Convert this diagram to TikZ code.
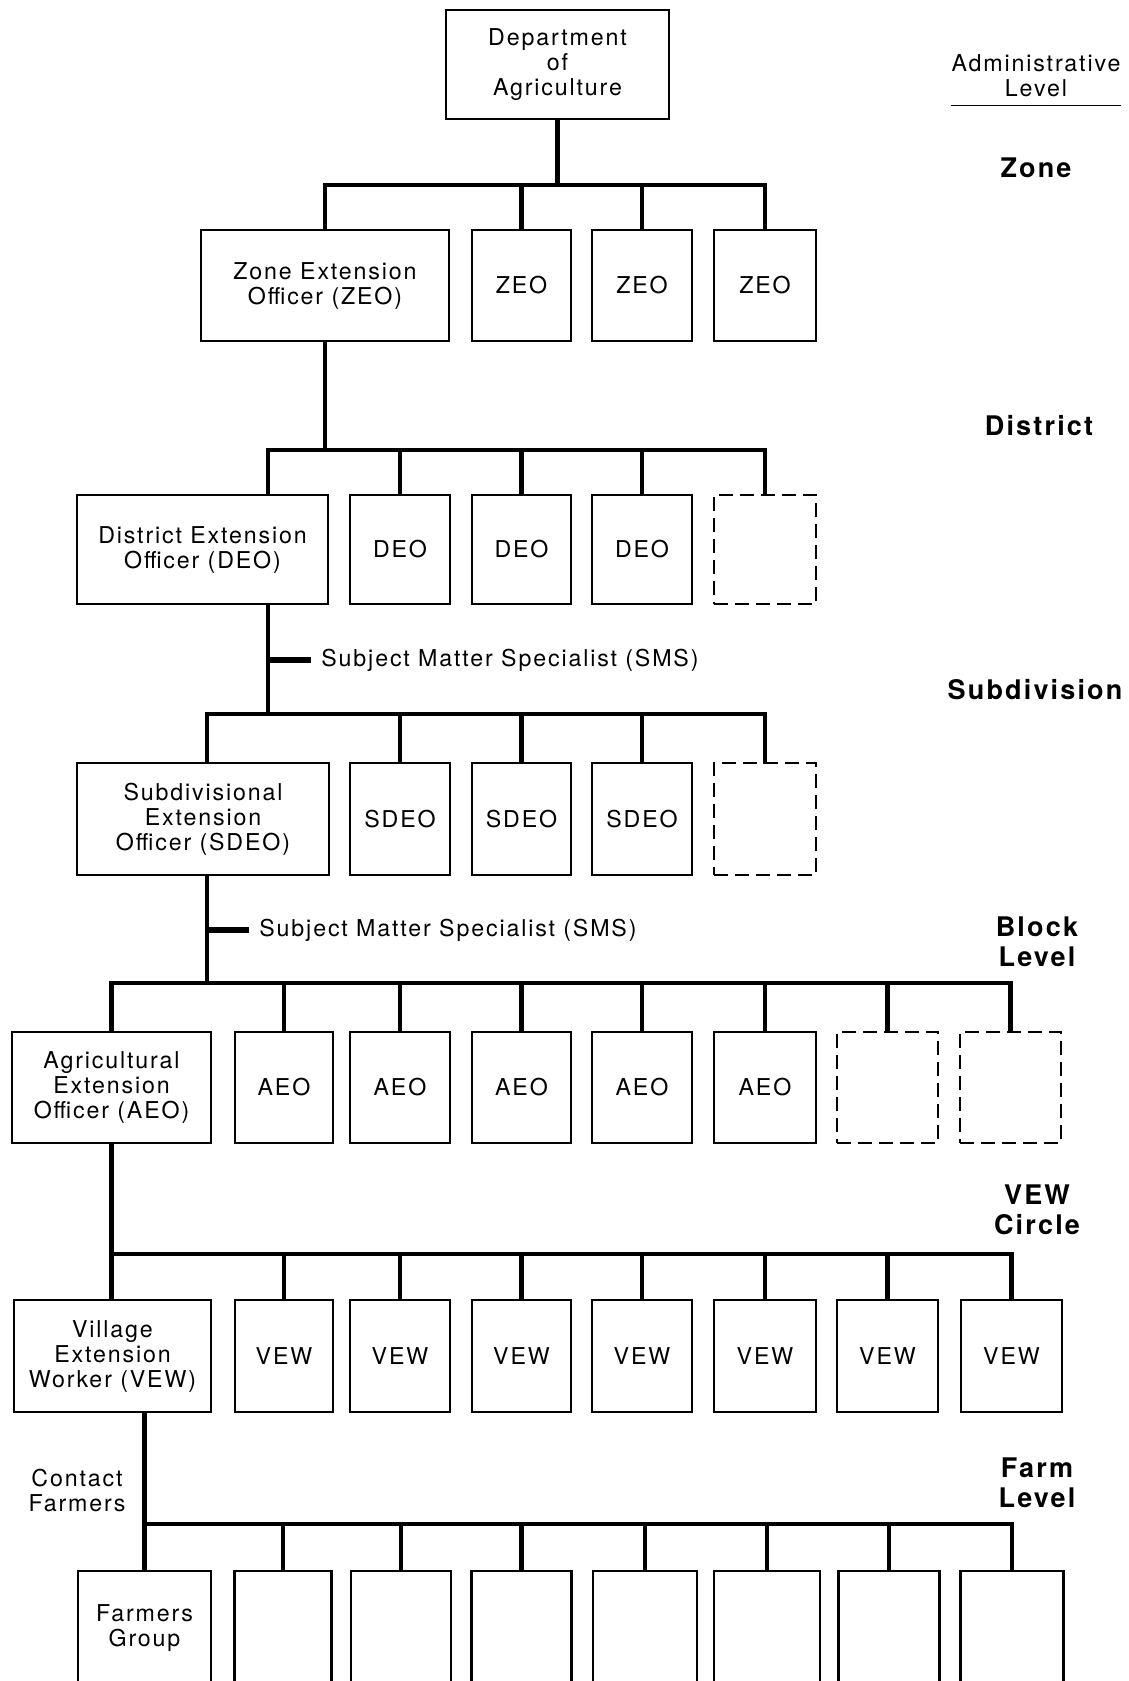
\documentclass[tikz,border=0pt]{standalone}
\usepackage{fontspec}
\setmainfont{TeX Gyre Heros}[LetterSpace=8]
\usetikzlibrary{positioning, calc}

\begin{document}
\begin{tikzpicture}[
    x=0.5pt, y=-0.5pt,
    every node/.style={font=\fontsize{11.6}{12.5}\selectfont},
    office/.style={draw, line width=1.3pt, inner sep=0pt, minimum height=55.5pt, align=center},
    vacant/.style={office, dash pattern=on 7pt off 3.5pt},
    link/.style={line width=2.3pt, line cap=rect},
    stub/.style={line width=2.8pt},
    level/.style={font=\fontsize{13.5}{15}\selectfont\bfseries, align=center}
]
\clip (0,0) rectangle (1129,1681);

% Department
\node[office, minimum width=111.5pt, minimum height=54.5pt] (dept) at (557.5,64.5) {Department\\of\\Agriculture};

% Zone
\node[office, minimum width=124pt] (zeo1) at (325,285.5) {Zone Extension\\Officer (ZEO)};
\node[office, minimum width=49.5pt] (zeo2) at (521.5,285.5) {ZEO};
\node[office, minimum width=50pt] (zeo3) at (642,285.5) {ZEO};
\node[office, minimum width=51pt] (zeo4) at (765,285.5) {ZEO};

% District
\node[office, minimum width=125.5pt, minimum height=54.5pt] (deo1) at (202.5,549.5) {District Extension\\Officer (DEO)};
\node[office, minimum width=50pt, minimum height=54.5pt] (deo2) at (400,549.5) {DEO};
\node[office, minimum width=49.5pt, minimum height=54.5pt] (deo3) at (521.5,549.5) {DEO};
\node[office, minimum width=50pt, minimum height=54.5pt] (deo4) at (642,549.5) {DEO};
\node[vacant, minimum width=51pt, minimum height=54.5pt] (deo5) at (765,549.5) {};

% Subdivision
\node[office, minimum width=126pt, minimum height=56pt] (sdeo1) at (203,819) {Subdivisional\\Extension\\Officer (SDEO)};
\node[office, minimum width=50pt, minimum height=56pt] (sdeo2) at (400,819) {SDEO};
\node[office, minimum width=49.5pt, minimum height=56pt] (sdeo3) at (521.5,819) {SDEO};
\node[office, minimum width=50pt, minimum height=56pt] (sdeo4) at (642,819) {SDEO};
\node[vacant, minimum width=51pt, minimum height=56pt] (sdeo5) at (765,819) {};

% Block
\node[office, minimum width=99.5pt] (aeo1) at (111.5,1087.5) {Agricultural\\Extension\\Officer (AEO)};
\node[office, minimum width=49pt] (aeo2) at (284,1087.5) {AEO};
\node[office, minimum width=50pt] (aeo3) at (400,1087.5) {AEO};
\node[office, minimum width=49.5pt] (aeo4) at (521.5,1087.5) {AEO};
\node[office, minimum width=50pt] (aeo5) at (642,1087.5) {AEO};
\node[office, minimum width=51pt] (aeo6) at (765,1087.5) {AEO};
\node[vacant, minimum width=50.5pt] (aeo7) at (887.5,1087.5) {};
\node[vacant, minimum width=50.5pt] (aeo8) at (1010.5,1087.5) {};

% VEW circle
\node[office, minimum width=98.5pt, minimum height=56pt] (vew1) at (112.5,1356) {Village\\Extension\\Worker (VEW)};
\node[office, minimum width=49pt, minimum height=56pt] (vew2) at (284,1356) {VEW};
\node[office, minimum width=50pt, minimum height=56pt] (vew3) at (400,1356) {VEW};
\node[office, minimum width=49.5pt, minimum height=56pt] (vew4) at (521.5,1356) {VEW};
\node[office, minimum width=50pt, minimum height=56pt] (vew5) at (642,1356) {VEW};
\node[office, minimum width=51pt, minimum height=56pt] (vew6) at (765,1356) {VEW};
\node[office, minimum width=50.5pt, minimum height=56pt] (vew7) at (887.5,1356) {VEW};
\node[office, minimum width=50.5pt, minimum height=56pt] (vew8) at (1011.5,1356) {VEW};

% Farm (boxes run off the page)
\node[office, minimum width=66.5pt, minimum height=57.5pt] (fg1) at (144.5,1628.5) {Farmers\\Group};
\node[office, minimum width=48.5pt, minimum height=57.5pt] (fg2) at (283,1628.5) {};
\node[office, minimum width=50pt, minimum height=57.5pt] (fg3) at (401,1628.5) {};
\node[office, minimum width=50pt, minimum height=57.5pt] (fg4) at (521.5,1628.5) {};
\node[office, minimum width=52pt, minimum height=57.5pt] (fg5) at (645,1628.5) {};
\node[office, minimum width=53pt, minimum height=57.5pt] (fg6) at (767,1628.5) {};
\node[office, minimum width=50.5pt, minimum height=57.5pt] (fg7) at (889,1628.5) {};
\node[office, minimum width=51.5pt, minimum height=57.5pt] (fg8) at (1012,1628.5) {};

% Levels
\node[align=center, inner xsep=0pt, inner ysep=4pt] (admin) at (1036,76) {Administrative\\Level};
\draw[line width=0.7pt] (admin.south west) -- (admin.south east);
\node[level] (zone) at (1036,168) {Zone};
\node[level] (district) at (1039,426) {District};
\node[level] (subdiv) at (1035,690) {Subdivision};
\node[level] (block) at (1037,942) {Block\\Level};
\node[level] (vewc) at (1037,1210) {VEW\\Circle};
\node[level] (farm) at (1037,1483) {Farm\\Level};

% Zone links
\coordinate (zbus) at (325,185);
\draw[link] (zbus) -- (zeo4.north |- zbus);
\draw[link] (dept.south) -- (dept.south |- zbus);
\draw[link] (zbus) -- (zeo1.north);
\draw[link] (zeo2.north) -- (zeo2.north |- zbus);
\draw[link] (zeo3.north) -- (zeo3.north |- zbus);
\draw[link] (zeo4.north) -- (zeo4.north |- zbus);

% District links
\coordinate (dbus) at (268,450);
\draw[link] (zeo1.south) -- (zeo1.south |- dbus);
\draw[link] (dbus) -- (deo5.north |- dbus);
\draw[link] (dbus) -- (dbus |- deo1.north);
\draw[link] (deo2.north) -- (deo2.north |- dbus);
\draw[link] (deo3.north) -- (deo3.north |- dbus);
\draw[link] (deo4.north) -- (deo4.north |- dbus);
\draw[link] (deo5.north) -- (deo5.north |- dbus);

% Subdivision links
\node[anchor=west, inner sep=5pt] (sms1) at (311,660) {Subject Matter Specialist (SMS)};
\coordinate (sbus) at (207,714);
\draw[link] (dbus |- deo1.south) -- (dbus |- sbus);
\draw[stub] (dbus |- sms1.west) -- (sms1.west);
\draw[link] (sbus) -- (sdeo5.north |- sbus);
\draw[link] (sbus) -- (sbus |- sdeo1.north);
\draw[link] (sdeo2.north) -- (sdeo2.north |- sbus);
\draw[link] (sdeo3.north) -- (sdeo3.north |- sbus);
\draw[link] (sdeo4.north) -- (sdeo4.north |- sbus);
\draw[link] (sdeo5.north) -- (sdeo5.north |- sbus);

% Block links
\node[anchor=west, inner sep=5pt] (sms2) at (249,930) {Subject Matter Specialist (SMS)};
\coordinate (abus) at (111.5,983);
\draw[link] (sbus |- sdeo1.south) -- (sbus |- abus);
\draw[stub] (sbus |- sms2.west) -- (sms2.west);
\draw[link] (abus) -- (aeo8.north |- abus);
\draw[link] (abus) -- (aeo1.north);
\draw[link] (aeo2.north) -- (aeo2.north |- abus);
\draw[link] (aeo3.north) -- (aeo3.north |- abus);
\draw[link] (aeo4.north) -- (aeo4.north |- abus);
\draw[link] (aeo5.north) -- (aeo5.north |- abus);
\draw[link] (aeo6.north) -- (aeo6.north |- abus);
\draw[link] (aeo7.north) -- (aeo7.north |- abus);
\draw[link] (aeo8.north) -- (aeo8.north |- abus);

% VEW links
\coordinate (vbus) at (111.5,1254);
\draw[link] (aeo1.south) -- (vbus);
\draw[link] (vbus) -- (vew8.north |- vbus);
\draw[link] (vbus) -- (vbus |- vew1.north);
\draw[link] (vew2.north) -- (vew2.north |- vbus);
\draw[link] (vew3.north) -- (vew3.north |- vbus);
\draw[link] (vew4.north) -- (vew4.north |- vbus);
\draw[link] (vew5.north) -- (vew5.north |- vbus);
\draw[link] (vew6.north) -- (vew6.north |- vbus);
\draw[link] (vew7.north) -- (vew7.north |- vbus);
\draw[link] (vew8.north) -- (vew8.north |- vbus);

% Farm links
\node[align=center] (contact) at (77,1490) {Contact\\Farmers};
\coordinate (fbus) at (144.5,1524);
\draw[link] (fbus |- vew1.south) -- (fg1.north);
\draw[link] (fbus) -- (fg8.north |- fbus);
\draw[link] (fg2.north) -- (fg2.north |- fbus);
\draw[link] (fg3.north) -- (fg3.north |- fbus);
\draw[link] (fg4.north) -- (fg4.north |- fbus);
\draw[link] (fg5.north) -- (fg5.north |- fbus);
\draw[link] (fg6.north) -- (fg6.north |- fbus);
\draw[link] (fg7.north) -- (fg7.north |- fbus);
\draw[link] (fg8.north) -- (fg8.north |- fbus);

\end{tikzpicture}
\end{document}
